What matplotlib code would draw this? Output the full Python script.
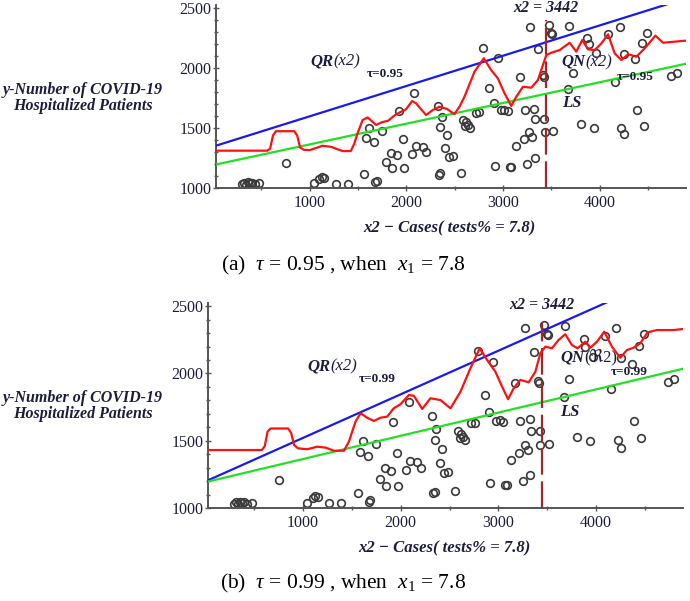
import matplotlib
matplotlib.use("Agg")
import matplotlib.pyplot as plt

plt.rcParams['font.family'] = ['Liberation Serif', 'DejaVu Serif', 'DejaVu Sans']
plt.rcParams['mathtext.fontset'] = 'custom'
plt.rcParams['mathtext.rm'] = 'Liberation Serif'
plt.rcParams['mathtext.it'] = 'Liberation Serif:italic'

TXT = "#1c1c3c"

# observed data (same points in both panels)
obs_x = [300, 320, 340, 360, 380, 400, 430, 480, 753, 1047, 1100, 1125, 1150, 1271, 1392,
         1565, 1582, 1617, 1668, 1680, 1692, 1744, 1790, 1841, 1851, 1900, 1920, 1962, 1972,
         2059, 2083, 2100, 2169, 2204, 2325, 2336, 2348, 2352, 2366, 2404, 2420, 2446, 2480,
         2560, 2590, 2610, 2620, 2640, 2660, 2722, 2756, 2790, 2860, 2905, 2919, 2946, 2980,
         3015, 3050, 3067, 3085, 3130, 3171, 3212, 3223, 3251, 3268, 3275, 3299, 3319, 3326,
         3334, 3361, 3410, 3420, 3423, 3430, 3471, 3492, 3510, 3516, 3672, 3679, 3723, 3803,
         3872, 3886, 3941, 3966, 4087, 4155, 4207, 4225, 4249, 4252, 4363, 4387, 4443, 4456,
         4494, 4736, 4801]
obs_y = [1035, 1045, 1030, 1050, 1040, 1045, 1035, 1040, 1208, 1042, 1080, 1090, 1085, 1036, 1036,
         1116, 1416, 1499, 1388, 1050, 1060, 1477, 1216, 1296, 1166, 1277, 1643, 1410, 1166,
         1283, 1790, 1352, 1341, 1299, 1685, 1112, 1124, 1507, 1591, 1333, 1443, 1263, 1269,
         1130, 1570, 1520, 1550, 1530, 1505, 1630, 1632, 2170, 1837, 1712, 1188, 2082, 1650,
         1652, 1643, 1175, 1175, 1355, 1926, 1408, 1651, 1202, 1471, 2339, 1429, 1662, 1249,
         1574, 2156, 1945, 1930, 1574, 1466, 2358, 2290, 2285, 1477, 1828, 2353, 1962, 1532,
         2253, 2198, 1499, 2123, 2281, 1888, 2339, 1504, 1449, 2115, 2073, 1651, 2206, 1521,
         2295, 1934, 1962]

# fitted lines
ls_a, ls_b = 1193, 0.1723            # LS line, same in both panels
qr_a = {"a": (1347, 0.252), "b": (1198, 0.3236)}
line_x = [30, 4885]

# QN curves
qn_x_a = [30, 300, 560, 590, 620, 650, 840, 870, 900, 940, 1000, 1133, 1220, 1340, 1425, 1460,
          1495, 1547, 1599, 1686, 1744, 1813, 1883, 1945, 1996, 2059, 2100, 2150, 2204, 2273,
          2342, 2420, 2497, 2550, 2601, 2705, 2801, 2877, 2946, 3016, 3085, 3137, 3206, 3292,
          3361, 3413, 3448, 3500, 3586, 3689, 3758, 3820, 3879, 3948, 4018, 4087, 4155, 4225,
          4294, 4381, 4466, 4577, 4656, 4777, 4885]
qn_y_a = [1313, 1313, 1313, 1330, 1440, 1475, 1475, 1440, 1340, 1320, 1318, 1354, 1345, 1310,
          1310, 1370, 1458, 1568, 1590, 1527, 1549, 1563, 1610, 1637, 1657, 1726, 1707, 1660,
          1610, 1651, 1679, 1660, 1617, 1680, 1762, 1970, 2082, 1984, 1915, 1790, 1685, 1762,
          1845, 1837, 1901, 2026, 2109, 2128, 2150, 2211, 2137, 2234, 2156, 2150, 2206, 2281,
          2123, 2067, 2115, 2095, 2165, 2270, 2211, 2220, 2228]

qn_x_b = [30, 300, 580, 610, 640, 670, 850, 880, 910, 950, 1046, 1148, 1233, 1318, 1420, 1471,
          1538, 1590, 1658, 1726, 1795, 1863, 1930, 1999, 2084, 2135, 2221, 2305, 2408, 2510,
          2612, 2714, 2809, 2885, 2969, 3038, 3099, 3156, 3224, 3310, 3378, 3429, 3480, 3548,
          3616, 3684, 3752, 3810, 3889, 3940, 4008, 4083, 4161, 4246, 4315, 4383, 4451, 4526,
          4621, 4791, 4885]
qn_y_b = [1432, 1432, 1432, 1460, 1570, 1592, 1592, 1560, 1470, 1445, 1438, 1457, 1450, 1427,
          1427, 1494, 1642, 1705, 1672, 1648, 1672, 1680, 1742, 1772, 1840, 1835, 1737, 1816,
          1803, 1742, 1865, 2039, 2187, 2100, 2013, 1902, 1809, 1890, 1952, 1935, 2013, 2150,
          2199, 2187, 2249, 2291, 2211, 2187, 2236, 2191, 2236, 2310, 2199, 2117, 2174, 2191,
          2224, 2305, 2322, 2322, 2330]

x_break = 3442

fig = plt.figure(figsize=(6.9, 6.01), dpi=100)
ax_a = fig.add_axes([215.5 / 690, 1 - 188.3 / 601, 470 / 690, 183.3 / 601])
ax_b = fig.add_axes([207.5 / 690, 1 - 508.3 / 601, 475.5 / 690, 205.6 / 601])


def draw_panel(ax, key, qn_x, qn_y, tau, qn_lab, pos):
    a, b = qr_a[key]
    ax.plot(obs_x, obs_y, "o", ms=5.5, mfc="none", mec="#3a3a3a", mew=1.2, zorder=2)
    ax.plot(line_x, [a + b * v for v in line_x], color="#1a1aee", lw=1.6, zorder=3)
    ax.plot(line_x, [ls_a + ls_b * v for v in line_x], color="#22e022", lw=1.6, zorder=3)
    ax.plot(qn_x, qn_y, color="#ff1010", lw=1.6, zorder=4)
    ax.plot([x_break, x_break], [1000, pos["vtop"]], color="#a02828", lw=1.6,
            dashes=(12, 3), zorder=3)

    ax.set_xlim(25, 4888)
    ax.set_ylim(1000, 2525)
    for s in ["top", "right"]:
        ax.spines[s].set_visible(False)
    for s in ["left", "bottom"]:
        ax.spines[s].set_color("#555555")
        ax.spines[s].set_linewidth(1.4)
    ax.set_xticks([1000, 2000, 3000, 4000])
    ax.set_xticks([500, 1500, 2500, 3500, 4500], minor=True)
    ax.set_yticks([1000, 1500, 2000, 2500])
    ax.set_yticks(range(1100, 2500, 100), minor=True)
    ax.tick_params(which="both", direction="inout", colors="#555555", labelcolor=TXT,
                   labelsize=11.5, length=4, width=1, pad=1)
    ax.tick_params(which="minor", length=3)
    ax.tick_params(axis="x", pad=3)
    ax.patch.set_alpha(0)

    ax.text(x_break, pos["x2"], "x2 = 3442", ha="center", va="center", fontsize=11.5,
            style="italic", weight="bold", color=TXT)
    t = ax.text(pos["qr"][0], pos["qr"][1], "QR", ha="left", va="center", fontsize=12,
                style="italic", weight="bold", color=TXT)
    ax.annotate("(x2)", xy=(1, 0), xycoords=t, ha="left", va="bottom", fontsize=12,
                style="italic", color=TXT)
    ax.text(pos["tau1"][0], pos["tau1"][1], "τ=" + tau, ha="left", va="center", fontsize=9.5,
            weight="bold", color=TXT)
    t = ax.text(pos["qn"][0], pos["qn"][1], "QN", ha="left", va="center", fontsize=12,
                style="italic", weight="bold", color=TXT)
    ax.annotate(qn_lab, xy=(1, 0), xycoords=t, ha="left", va="bottom", fontsize=12,
                style="italic" if key == "a" else "normal", color=TXT,
                family=['Liberation Serif', 'DejaVu Sans'])
    ax.text(pos["tau2"][0], pos["tau2"][1], "τ=" + tau, ha="left", va="center", fontsize=9.5,
            weight="bold", color=TXT)
    ax.text(pos["ls"][0], pos["ls"][1], "LS", ha="left", va="center", fontsize=12,
            style="italic", weight="bold", color=TXT)


draw_panel(ax_a, "a", qn_x_a, qn_y_a, "0.95", "(x2)",
           {"vtop": 2400, "x2": 2500, "qr": (1010, 2059), "tau1": (1590, 1951),
            "qn": (3609, 2051), "tau2": (4178, 1926), "ls": (3609, 1710)})
draw_panel(ax_b, "b", qn_x_b, qn_y_b, "0.99", "(ℜ2)",
           {"vtop": 2384, "x2": 2508, "qr": (1046, 2050), "tau1": (1573, 1959),
            "qn": (3633, 2117), "tau2": (4144, 2013), "ls": (3633, 1717)})

ylab = "y-Number of COVID-19\nHospitalized Patients"
fig.text(83 / 690, 1 - 98 / 601, ylab, ha="center", va="center", ma="center",
         fontsize=11.5, style="italic", weight="bold", color=TXT, linespacing=1.05)
fig.text(83 / 690, 1 - 406 / 601, ylab, ha="center", va="center", ma="center",
         fontsize=11.5, style="italic", weight="bold", color=TXT, linespacing=1.05)

xlab = "x2 − Cases( tests% = 7.8)"
fig.text(449 / 690, 1 - 228 / 601, xlab, ha="center", va="center", fontsize=12,
         style="italic", weight="bold", color=TXT)
fig.text(444 / 690, 1 - 548 / 601, xlab, ha="center", va="center", fontsize=12,
         style="italic", weight="bold", color=TXT)

fig.text(343 / 690, 1 - 265 / 601, r"(a)  $\tau$ = 0.95 , when  $x_1$ = 7.8",
         ha="center", va="center", fontsize=15.5, color="black")
fig.text(343 / 690, 1 - 583 / 601, r"(b)  $\tau$ = 0.99 , when  $x_1$ = 7.8",
         ha="center", va="center", fontsize=15.5, color="black")

fig.savefig("out.png", dpi=100)
